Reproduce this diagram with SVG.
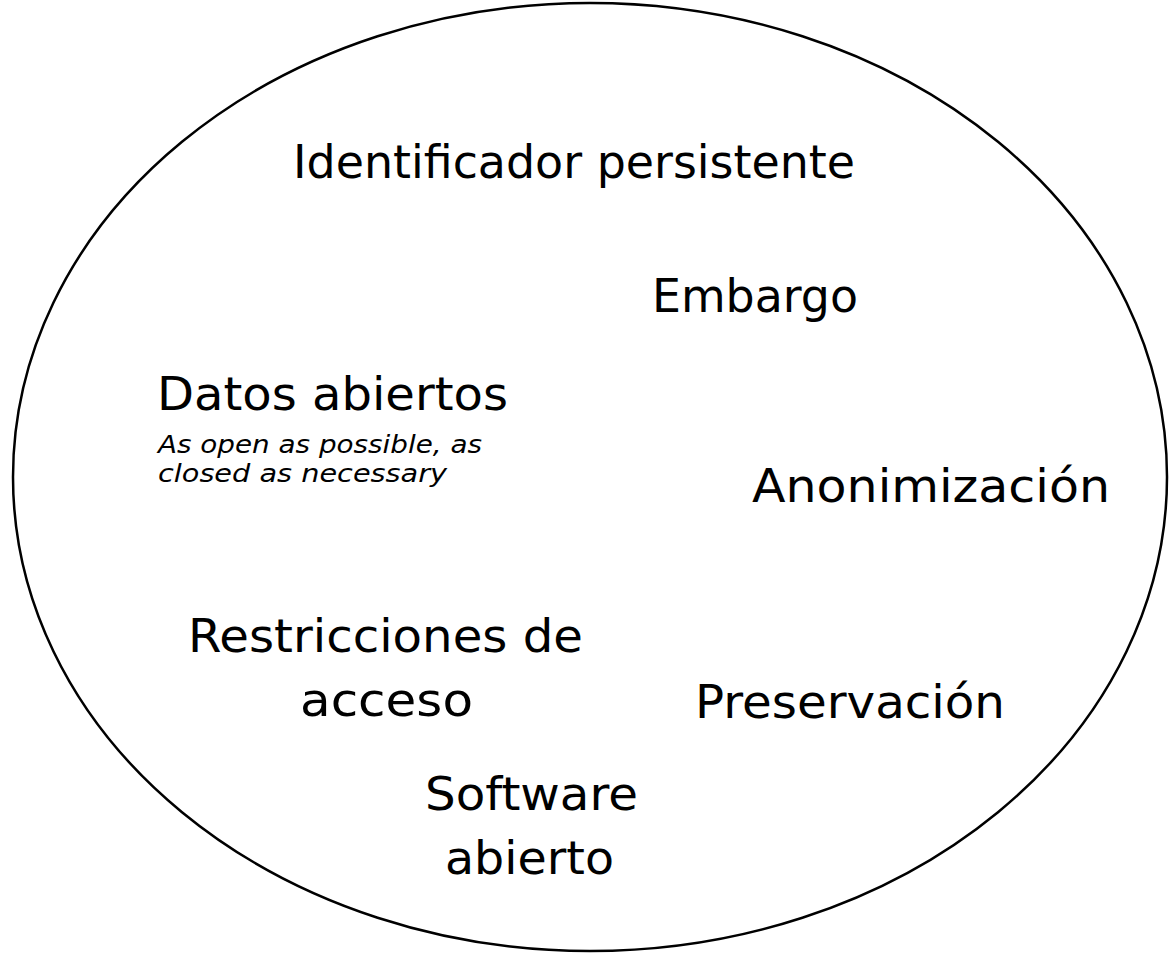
<svg xmlns="http://www.w3.org/2000/svg" width="1169" height="953" viewBox="0 0 1169 953">
<style>
.bg{fill:#ffffff}
.outline{fill:none;stroke:#000;stroke-width:2.5}
.t{font-family:"DejaVu Sans","Liberation Sans",sans-serif;font-size:47px;fill:#000;font-weight:normal}
.i{font-family:"DejaVu Sans","Liberation Sans",sans-serif;font-size:25px;font-style:italic;fill:#000}
</style>
<rect class="bg" x="0" y="0" width="1169" height="953"/>
<g id="ellipse"><ellipse class="outline" cx="590" cy="477" rx="577" ry="474"/></g>
<g id="identificador"><text class="t" x="293" y="178" textLength="562" lengthAdjust="spacingAndGlyphs">Identificador persistente</text></g>
<g id="embargo"><text class="t" x="652" y="312" textLength="206" lengthAdjust="spacingAndGlyphs">Embargo</text></g>
<g id="datos">
<text class="t" x="157" y="410" textLength="351" lengthAdjust="spacingAndGlyphs">Datos abiertos</text>
<text class="i" x="158" y="453" textLength="324" lengthAdjust="spacingAndGlyphs">As open as possible, as</text>
<text class="i" x="158" y="482" textLength="289" lengthAdjust="spacingAndGlyphs">closed as necessary</text>
</g>
<g id="anonimizacion"><text class="t" x="752" y="502" textLength="358" lengthAdjust="spacingAndGlyphs">Anonimización</text></g>
<g id="restricciones">
<text class="t" x="188" y="652" textLength="395" lengthAdjust="spacingAndGlyphs">Restricciones de</text>
<text class="t" x="300" y="716" textLength="173" lengthAdjust="spacingAndGlyphs">acceso</text>
</g>
<g id="preservacion"><text class="t" x="695" y="718" textLength="310" lengthAdjust="spacingAndGlyphs">Preservación</text></g>
<g id="software">
<text class="t" x="425" y="810" textLength="213" lengthAdjust="spacingAndGlyphs">Software</text>
<text class="t" x="445" y="874" textLength="169" lengthAdjust="spacingAndGlyphs">abierto</text>
</g>
<g id="connectors"></g>
</svg>
